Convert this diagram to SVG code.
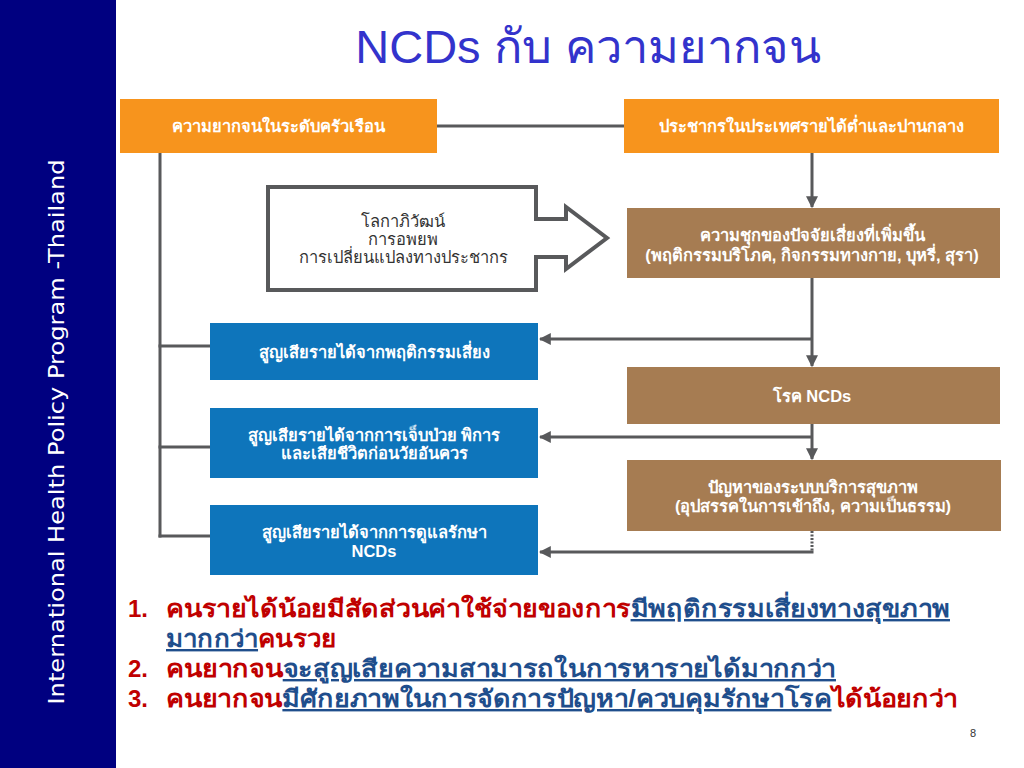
<svg xmlns="http://www.w3.org/2000/svg" width="1024" height="768" viewBox="0 0 1024 768">
<defs>
<marker id="ah" viewBox="0 0 10 10" refX="9" refY="5" markerWidth="4" markerHeight="4" orient="auto" markerUnits="strokeWidth">
<path d="M0,0 L10,5 L0,10 z" fill="#58595B"/>
</marker>
</defs>
<style>
.orange{fill:#F7941D}
.brown{fill:#A67C52}
.blue{fill:#0E75BB}
.bt{fill:#FFFFFF;font-family:"Liberation Sans",sans-serif;font-size:16.5px;font-weight:bold;text-anchor:middle}
.con{stroke:#58595B;stroke-width:3;fill:none}
.red{fill:#C00000}
.ul{fill:#1F4E8C;text-decoration:underline}
.list{font-family:"Liberation Sans",sans-serif;font-size:24px;font-weight:bold}
</style>
<rect width="1024" height="768" fill="#FFFFFF"/>
<rect x="0" y="0" width="116" height="768" fill="#000080"/>
<text transform="translate(64,432) rotate(-90)" font-family="DejaVu Sans, sans-serif" font-size="22" fill="#FFFFFF" text-anchor="middle" textLength="545" lengthAdjust="spacingAndGlyphs">International Health Policy Program -Thailand</text>
<text x="588" y="63" font-family="Liberation Sans, sans-serif" font-size="47" fill="#3333CC" text-anchor="middle">NCDs กับ ความยากจน</text>

<g id="connectors">
<line class="con" x1="437" y1="126" x2="624" y2="126"/>
<line class="con" x1="812" y1="153" x2="812" y2="207" marker-end="url(#ah)"/>
<line class="con" x1="812" y1="278" x2="812" y2="366" marker-end="url(#ah)"/>
<line class="con" x1="812" y1="339" x2="540" y2="339" marker-end="url(#ah)"/>
<line class="con" x1="812" y1="424" x2="812" y2="459" marker-end="url(#ah)"/>
<line class="con" x1="812" y1="437" x2="540" y2="437" marker-end="url(#ah)"/>
<line class="con" x1="812" y1="531" x2="812" y2="552" stroke-dasharray="2 1.5"/>
<line class="con" x1="813.5" y1="552" x2="540" y2="552" marker-end="url(#ah)"/>
<line class="con" x1="160" y1="153" x2="160" y2="537.5"/>
<line class="con" x1="158.5" y1="346" x2="210" y2="346"/>
<line class="con" x1="158.5" y1="447" x2="210" y2="447"/>
<line class="con" x1="158.5" y1="536" x2="210" y2="536"/>
</g>

<g id="n_household">
<rect class="orange" x="120" y="99" width="317" height="54"/>
<text class="bt" x="278" y="132">ความยากจนในระดับครัวเรือน</text>
</g>
<g id="n_population">
<rect class="orange" x="624" y="99" width="375" height="54"/>
<text class="bt" x="811" y="132">ประชากรในประเทศรายได้ต่ำและปานกลาง</text>
</g>
<g id="n_global">
<path d="M268,187 L536,187 L536,219 L566,219 L566,207 L607,238 L566,269 L566,257 L536,257 L536,290 L268,290 Z" fill="#FFFFFF" stroke="#58595B" stroke-width="4" stroke-linejoin="miter"/>
<text font-family="Liberation Sans, sans-serif" font-size="16.5" fill="#333333" text-anchor="middle"><tspan x="403" y="227">โลกาภิวัฒน์</tspan><tspan x="403" y="245">การอพยพ</tspan><tspan x="403" y="263">การเปลี่ยนแปลงทางประชากร</tspan></text>
</g>
<g id="n_risk">
<rect class="brown" x="627" y="208" width="373" height="70"/>
<text class="bt"><tspan x="812" y="241">ความชุกของปัจจัยเสี่ยงที่เพิ่มขึ้น</tspan><tspan x="812" y="261">(พฤติกรรมบริโภค, กิจกรรมทางกาย, บุหรี่, สุรา)</tspan></text>
</g>
<g id="n_loss_behav">
<rect class="blue" x="210" y="323" width="328" height="57"/>
<text class="bt" x="374" y="358">สูญเสียรายได้จากพฤติกรรมเสี่ยง</text>
</g>
<g id="n_ncd">
<rect class="brown" x="627" y="367" width="373" height="57"/>
<text class="bt" x="812" y="402">โรค NCDs</text>
</g>
<g id="n_loss_ill">
<rect class="blue" x="210" y="408" width="328" height="70"/>
<text class="bt"><tspan x="374" y="441">สูญเสียรายได้จากการเจ็บป่วย พิการ</tspan><tspan x="374" y="459">และเสียชีวิตก่อนวัยอันควร</tspan></text>
</g>
<g id="n_health">
<rect class="brown" x="627" y="460" width="374" height="71"/>
<text class="bt"><tspan x="813" y="493">ปัญหาของระบบบริการสุขภาพ</tspan><tspan x="813" y="512">(อุปสรรคในการเข้าถึง, ความเป็นธรรม)</tspan></text>
</g>
<g id="n_loss_care">
<rect class="blue" x="210" y="505" width="328" height="70"/>
<text class="bt"><tspan x="374" y="538">สูญเสียรายได้จากการดูแลรักษา</tspan><tspan x="374" y="557">NCDs</tspan></text>
</g>

<g id="list" class="list">
<text x="128" y="617" class="red">1.</text>
<text x="166" y="617" textLength="784" lengthAdjust="spacingAndGlyphs"><tspan class="red">คนรายได้น้อยมีสัดส่วนค่าใช้จ่ายของการ</tspan><tspan class="ul">มีพฤติกรรมเสี่ยงทางสุขภาพ</tspan></text>
<text x="166" y="647" textLength="170" lengthAdjust="spacingAndGlyphs"><tspan class="ul">มากกว่า</tspan><tspan class="red">คนรวย</tspan></text>
<text x="128" y="677" class="red">2.</text>
<text x="166" y="677" textLength="670" lengthAdjust="spacingAndGlyphs"><tspan class="red">คนยากจน</tspan><tspan class="ul">จะสูญเสียความสามารถในการหารายได้มากกว่า</tspan></text>
<text x="128" y="707" class="red">3.</text>
<text x="166" y="707" textLength="792" lengthAdjust="spacingAndGlyphs"><tspan class="red">คนยากจน</tspan><tspan class="ul">มีศักยภาพในการจัดการปัญหา/ควบคุมรักษาโรค</tspan><tspan class="red">ได้น้อยกว่า</tspan></text>
</g>
<text x="973" y="737" font-family="Liberation Sans, sans-serif" font-size="11" fill="#333333" text-anchor="middle">8</text>
</svg>
